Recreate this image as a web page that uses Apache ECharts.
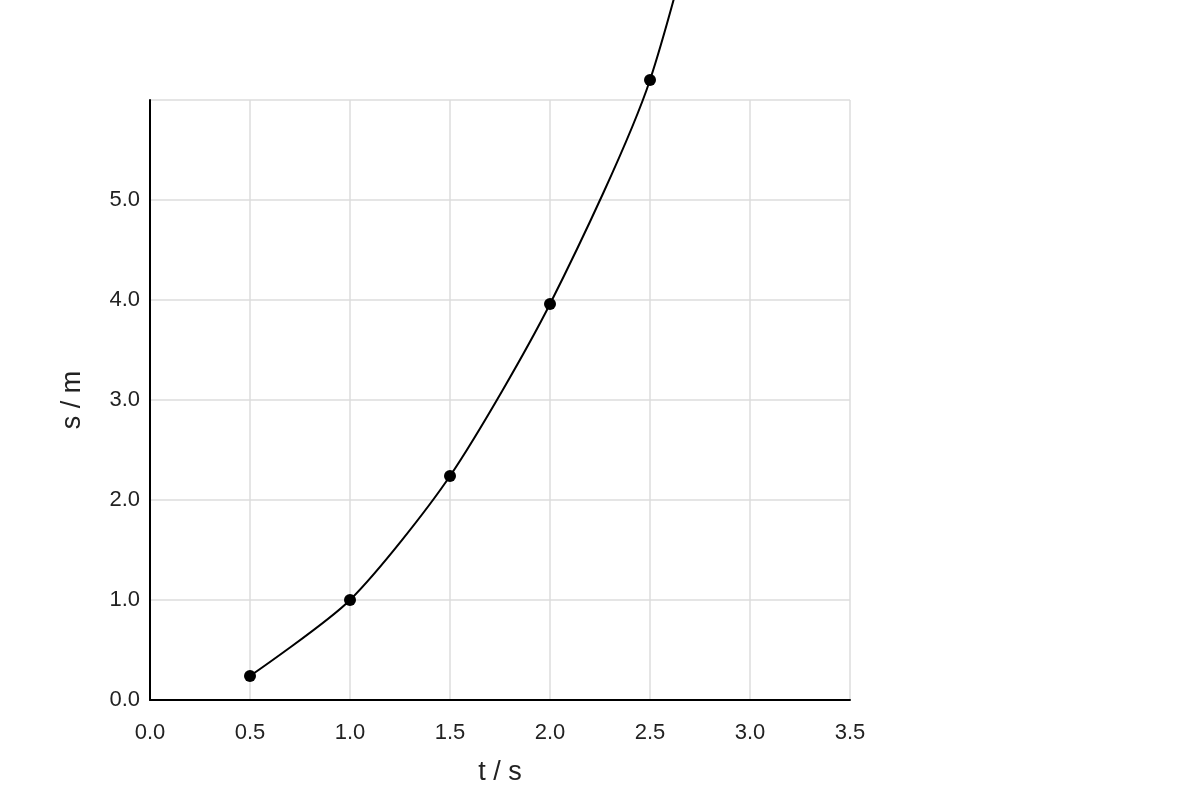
<!DOCTYPE html>
<html lang="en">
<head>
    <meta charset="UTF-8">
    <title>s-t</title>
    <script src="https://cdn.jsdelivr.net/npm/echarts@6/dist/echarts.min.js"></script>
    <style>
        html, body { margin: 0; padding: 0; background: #fff; }
    </style>
</head>
<body>
    <div id="main" style="width: 1200px;height:800px;"></div>
</body>
    <script type="text/javascript">
        // time (s) and distance (m)
        var times = [0.5, 1.0, 1.5, 2.0, 2.5, 3.0];
        var distances = [0.24, 1.0, 2.24, 3.96, 6.2, 10.0];

        var points = times.map(function (t, i) { return [t, distances[i]]; });

        var myChart = echarts.init(document.getElementById('main'));

        var option = {
            animation: false,
            grid: {
                left: 150,
                right: 350,
                top: 100,
                bottom: 100
            },
            xAxis: {
                type: 'value',
                min: 0,
                max: 3.5,
                interval: 0.5,
                name: 't / s',
                nameLocation: 'middle',
                nameGap: 59,
                nameTextStyle: { fontSize: 27, color: '#222', fontFamily: 'Liberation Sans' },
                axisLine: { show: true, lineStyle: { color: '#000', width: 2 } },
                axisTick: { show: false },
                axisLabel: {
                    fontSize: 22, color: '#222', margin: 22, fontFamily: 'Liberation Sans',
                    formatter: function (v) { return v.toFixed(1); }
                },
                splitLine: { show: true, lineStyle: { color: '#ddd', width: 1.5 } }
            },
            yAxis: {
                type: 'value',
                min: 0,
                max: 6,
                interval: 1,
                name: 's / m',
                nameLocation: 'middle',
                nameGap: 64,
                nameTextStyle: { fontSize: 27, color: '#222', fontFamily: 'Liberation Sans' },
                axisLine: { show: true, onZero: false, lineStyle: { color: '#000', width: 2 } },
                axisTick: { show: false },
                axisLabel: {
                    fontSize: 22, color: '#222', margin: 10, fontFamily: 'Liberation Sans',
                    showMaxLabel: false,
                    formatter: function (v) { return v.toFixed(1); }
                },
                splitLine: { show: true, lineStyle: { color: '#ddd', width: 1.5 } }
            },
            series: [
                {
                    type: 'line',
                    data: points,
                    smooth: 0.25,
                    clip: false,
                    symbol: 'circle',
                    symbolSize: 12,
                    itemStyle: { color: '#000' },
                    lineStyle: { color: '#000', width: 2 }
                }
            ]
        };

        myChart.setOption(option);
    </script>
</html>
